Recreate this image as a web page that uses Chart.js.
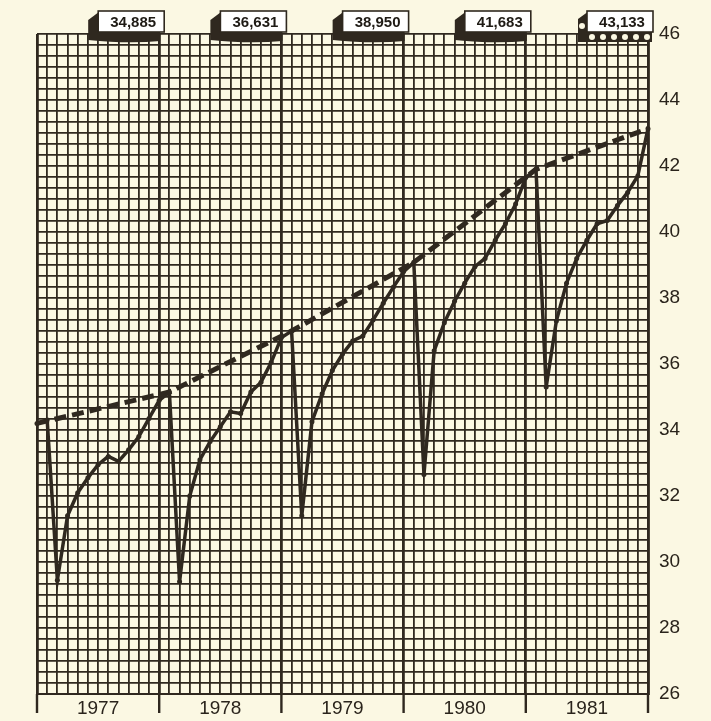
<!DOCTYPE html>
<html>
<head>
<meta charset="utf-8">
<script src="https://cdn.jsdelivr.net/npm/chart.js@4.4.1/dist/chart.umd.min.js"></script>
<style>
  html, body { margin: 0; padding: 0; background: #fbf8e3; }
  canvas { display: block; }
</style>
</head>
<body>
<canvas id="c" width="711" height="721"></canvas>
<script>
// ---- data ----
const years = ['1977', '1978', '1979', '1980', '1981'];
const yearTotals = ['34,885', '36,631', '38,950', '41,683', '43,133'];
// monthly values (thousands), month index 0 .. 60
const monthlyValues = [
  34.2, 34.3, 29.45, 31.4, 32.1, 32.55, 32.95, 33.2, 33.05, 33.4, 33.8, 34.35, 34.9,
  35.15, 29.4, 32.0, 33.1, 33.65, 34.1, 34.55, 34.5, 35.15, 35.45, 36.05, 36.8,
  37.0, 31.4, 34.25, 35.1, 35.8, 36.3, 36.7, 36.85, 37.33, 37.84, 38.33, 38.8,
  39.08, 32.65, 36.4, 37.25, 37.9, 38.45, 38.95, 39.2, 39.75, 40.25, 40.85, 41.65,
  41.9, 35.3, 37.3, 38.45, 39.2, 39.75, 40.25, 40.35, 40.8, 41.2, 41.7, 43.13
];
const trendMonths = [0, 13, 25, 37, 49, 60];
const trendValues = [34.2, 35.15, 37.0, 39.08, 41.9, 43.13];
const yMin = 26, yMax = 46;
const monthsPerYear = 12;

const INK = '#2f281f';
const monthlyPoints = monthlyValues.map((v, i) => ({ x: i, y: v }));
const trendPoints = trendMonths.map((m, i) => ({ x: m, y: trendValues[i] }));
const totalMonths = years.length * monthsPerYear;

const extras = {
  id: 'extras',
  afterDraw(chart) {
    const ctx = chart.ctx;
    const xs = chart.scales.x;
    const area = chart.chartArea;
    ctx.save();
    ctx.strokeStyle = INK;
    ctx.lineWidth = 2.4;
    for (let k = 0; k <= years.length; k++) {
      const px = xs.getPixelForValue(k * monthsPerYear);
      ctx.beginPath();
      ctx.moveTo(px, area.bottom);
      ctx.lineTo(px, area.bottom + 19);
      ctx.stroke();
    }
    for (let i = 0; i < yearTotals.length; i++) {
      const xEnd = xs.getPixelForValue((i + 1) * monthsPerYear);
      const x1 = xEnd + 5, x0 = x1 - 66, y0 = 11, h = 21;
      ctx.fillStyle = INK;
      if (i < yearTotals.length - 1) {
        ctx.beginPath();
        ctx.moveTo(x0 + 2, y0);
        ctx.lineTo(x0 - 10, y0 + 9);
        ctx.lineTo(x0 - 10, y0 + 29);
        ctx.quadraticCurveTo(x0 + 30, y0 + 33, x1 - 4, y0 + 30);
        ctx.lineTo(x1 - 4, y0 + h);
        ctx.closePath();
        ctx.fill();
      } else {
        ctx.beginPath();
        ctx.moveTo(x0 + 2, y0);
        ctx.lineTo(x0 - 9, y0 + 8);
        ctx.lineTo(x0 - 9, y0 + 31);
        ctx.lineTo(x1 - 1, y0 + 31);
        ctx.lineTo(x1 - 1, y0 + h);
        ctx.closePath();
        ctx.fill();
        ctx.fillStyle = '#fbf8e3';
        for (let c = 0; c < 6; c++) {
          ctx.beginPath();
          ctx.arc(x0 + 5 + c * 11, y0 + 26, 3, 0, Math.PI * 2);
          ctx.fill();
        }
        ctx.beginPath();
        ctx.arc(x0 - 5, y0 + 15, 3, 0, Math.PI * 2);
        ctx.fill();
      }
      ctx.fillStyle = '#ffffff';
      ctx.fillRect(x0, y0, x1 - x0, h);
      ctx.strokeStyle = INK;
      ctx.lineWidth = 1.6;
      ctx.strokeRect(x0, y0, x1 - x0, h);
      ctx.fillStyle = '#1e1a14';
      ctx.font = 'bold 15px "Liberation Sans", Arial, sans-serif';
      ctx.textAlign = 'center';
      ctx.textBaseline = 'middle';
      ctx.fillText(yearTotals[i], (x0 + x1) / 2 + 2, y0 + h / 2 + 1);
    }
    ctx.restore();
  }
};

new Chart(document.getElementById('c'), {
  type: 'line',
  data: {
    datasets: [
      {
        data: trendPoints,
        borderColor: INK,
        borderWidth: 5,
        borderDash: [12, 6],
        pointRadius: 0,
        tension: 0,
        clip: false,
        order: 1
      },
      {
        data: monthlyPoints,
        borderColor: INK,
        backgroundColor: INK,
        borderWidth: 3.5,
        pointRadius: 2.5,
        pointBackgroundColor: INK,
        pointBorderWidth: 0,
        tension: 0,
        clip: false,
        order: 0
      }
    ]
  },
  options: {
    responsive: false,
    animation: false,
    events: [],
    layout: { padding: { top: 34, left: 37, right: 0, bottom: 0 } },
    plugins: { legend: { display: false }, tooltip: { enabled: false } },
    scales: {
      x: {
        type: 'linear',
        min: 0,
        max: totalMonths,
        afterBuildTicks(scale) {
          const t = [];
          for (let m = 0; m <= totalMonths; m++) t.push({ value: m });
          scale.ticks = t;
        },
        afterFit(scale) { scale.height = 27; },
        grid: {
          color: INK,
          lineWidth: (c) => (c.tick && c.tick.value % monthsPerYear === 0) ? 2.8 : 1.8,
          drawTicks: false
        },
        border: { display: true, color: INK, width: 2 },
        ticks: {
          autoSkip: false,
          maxRotation: 0,
          padding: 3,
          color: '#2a241c',
          font: { family: '"Liberation Sans", Arial, sans-serif', size: 19 },
          callback: (v) => (v % monthsPerYear === 6) ? years[(v - 6) / monthsPerYear] : ''
        }
      },
      y: {
        position: 'right',
        min: yMin,
        max: yMax,
        afterBuildTicks(scale) {
          const t = [];
          for (let k = 0; k <= (yMax - yMin) * 3; k++) t.push({ value: yMin + k / 3 });
          scale.ticks = t;
        },
        afterFit(scale) { scale.width = 63; },
        grid: { color: INK, lineWidth: 1.8, drawTicks: false },
        border: { display: true, color: INK, width: 2.4 },
        ticks: {
          autoSkip: false,
          padding: 11,
          color: '#2a241c',
          font: { family: '"Liberation Sans", Arial, sans-serif', size: 19 },
          callback: (v) => {
            const r = Math.round(v);
            return (Math.abs(v - r) < 1e-6 && r % 2 === 0) ? String(r) : '';
          }
        }
      }
    }
  },
  plugins: [extras]
});
</script>
</body>
</html>
